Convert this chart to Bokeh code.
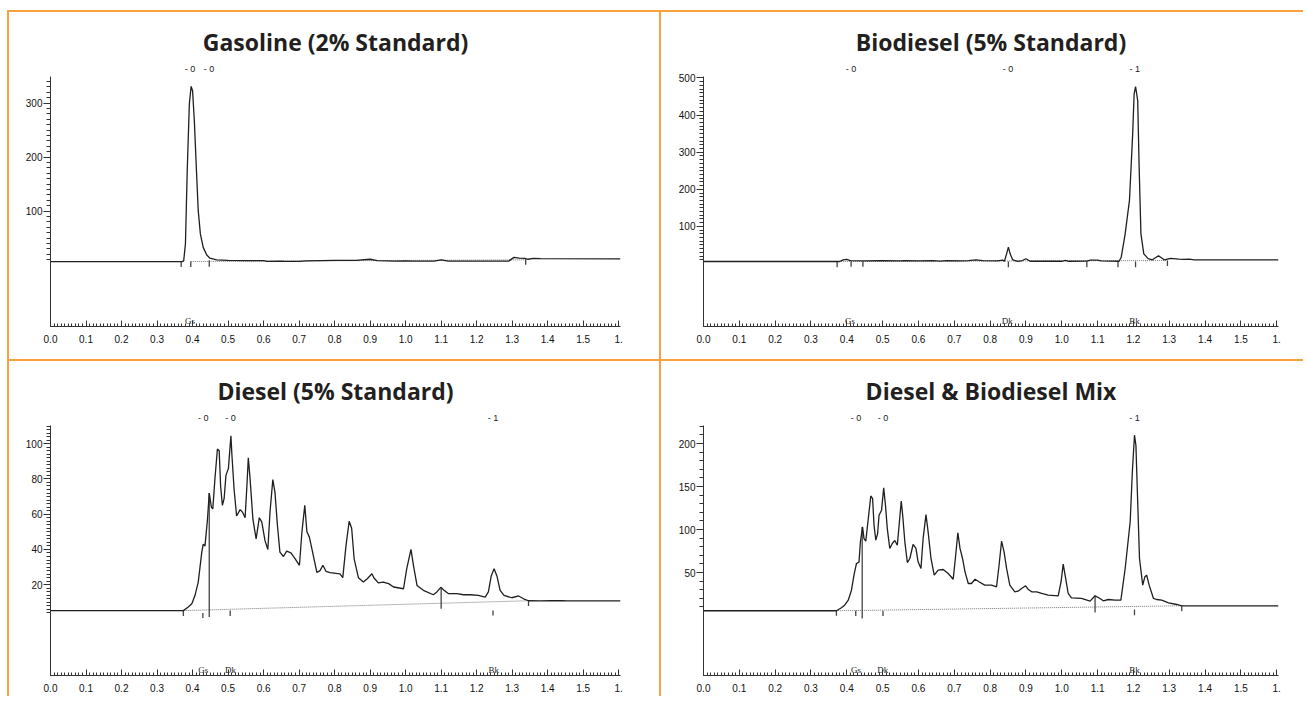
from bokeh.plotting import figure
from bokeh.models import Range1d, FixedTicker, Spacer
from bokeh.layouts import column, row
from bokeh.core.properties import value
from bokeh.embed import file_html
from bokeh.resources import INLINE

ORANGE = "#F7A23B"
INK = "#1f1f1f"
AXIS = "#333333"
NARROW = "Liberation Sans Narrow, Liberation Sans, Arial Narrow"

# ---------------- x axis (retention time, min) ----------------
x_ticks = [0.0, 0.1, 0.2, 0.3, 0.4, 0.5, 0.6, 0.7, 0.8, 0.9, 1.0, 1.1, 1.2, 1.3, 1.4, 1.5, 1.6]
x_tick_labels = ["0.0", "0.1", "0.2", "0.3", "0.4", "0.5", "0.6", "0.7", "0.8", "0.9",
                 "1.0", "1.1", "1.2", "1.3", "1.4", "1.5", "1."]
x_minor_ticks = [i / 100 for i in range(0, 161)]

# ---------------- Gasoline (2% Standard) ----------------
gas_t = [0.0, 0.370, 0.375, 0.380, 0.385, 0.391, 0.396, 0.400, 0.405, 0.411, 0.416, 0.422,
         0.430, 0.440, 0.449, 0.468, 0.50, 0.55, 0.60, 0.61, 0.65, 0.66, 0.70, 0.72, 0.76,
         0.80, 0.86, 0.90, 0.92, 0.97, 1.00, 1.02, 1.08, 1.10, 1.12, 1.20, 1.29, 1.305,
         1.32, 1.335, 1.345, 1.36, 1.38, 1.605]
gas_y = [6.8, 6.8, 8, 40, 175, 299, 331, 323, 268, 175, 101, 58,
         33, 19, 13, 10, 9, 8.5, 8.5, 7, 7.5, 7, 7, 8, 8.5,
         9, 9, 11, 8.5, 7.5, 8, 7.5, 7.5, 10, 7.5, 7.5, 7.5, 14.5,
         13, 12.5, 11, 12.5, 12, 11.8]
gas_base_t = [0.395, 1.338]
gas_base_y = [6.8, 10.0]
gas_mark_t = [0.368, 0.395, 0.447, 1.338]
gas_mark_top = [7.0, 7.0, 9.0, 11.0]
gas_mark_bot = [-3.5, -3.5, -3.0, 1.0]
gas_peak_t = [0.393, 0.446]
gas_peak_txt = ["- 0", "- 0"]
gas_cmp_t = [0.393]
gas_cmp_txt = ["Gs"]
gas_yticks = [100, 200, 300]
gas_yminor = list(range(10, 350, 10))

# ---------------- Biodiesel (5% Standard) ----------------
bio_t = [0.0, 0.380, 0.390, 0.400, 0.410, 0.450, 0.500, 0.550, 0.560, 0.600, 0.640, 0.660,
         0.680, 0.720, 0.740, 0.760, 0.780, 0.820, 0.835, 0.840, 0.846, 0.851, 0.856, 0.863,
         0.877, 0.890, 0.900, 0.912, 1.000, 1.010, 1.020, 1.070, 1.080, 1.100, 1.110, 1.160,
         1.166, 1.177, 1.189, 1.198, 1.202, 1.206, 1.212, 1.216, 1.221, 1.229, 1.241, 1.253,
         1.270, 1.286, 1.304, 1.327, 1.340, 1.356, 1.370, 1.605]
bio_y = [5.4, 5.4, 10, 11, 8, 7, 8, 7, 8, 7, 8, 6.5,
         8, 7, 8, 10, 8, 7, 9, 6, 26, 44, 26, 10,
         6, 8, 12.7, 6, 6, 8.5, 6, 6.5, 9, 9, 7, 6,
         17, 80, 170, 350, 457, 477, 439, 260, 80, 26, 13, 10,
         21, 10, 14, 12, 11, 12, 10, 10]
bio_base_t = [0.373, 1.295]
bio_base_y = [5.4, 8.0]
bio_mark_t = [0.373, 0.412, 0.445, 0.851, 1.070, 1.157, 1.206, 1.295]
bio_mark_top = [5.4, 6.0, 5.4, 5.4, 5.4, 5.4, 5.4, 8.0]
bio_mark_bot = [-10, -9, -9, -10, -10, -10, -10, -7]
bio_peak_t = [0.412, 0.850, 1.204]
bio_peak_txt = ["- 0", "- 0", "- 1"]
bio_cmp_t = [0.409, 0.848, 1.203]
bio_cmp_txt = ["Gs", "Dk", "Bk"]
bio_yticks = [100, 200, 300, 400, 500]
bio_yminor = list(range(10, 510, 10))

# ---------------- Diesel (5% Standard) ----------------
die_t = [0.0, 0.370, 0.374, 0.388, 0.398, 0.407, 0.416, 0.426, 0.430, 0.435, 0.442, 0.447,
         0.453, 0.457, 0.463, 0.470, 0.475, 0.479, 0.484, 0.489, 0.494, 0.501, 0.508, 0.511,
         0.517, 0.524, 0.534, 0.541, 0.548, 0.553, 0.557, 0.562, 0.570, 0.579, 0.588, 0.595,
         0.604, 0.612, 0.618, 0.626, 0.632, 0.639, 0.646, 0.656, 0.665, 0.677, 0.689, 0.701,
         0.708, 0.716, 0.722, 0.729, 0.738, 0.750, 0.759, 0.767, 0.776, 0.787, 0.815, 0.823,
         0.832, 0.841, 0.848, 0.855, 0.867, 0.881, 0.892, 0.905, 0.911, 0.923, 0.937, 0.952,
         0.966, 0.994, 1.003, 1.015, 1.022, 1.032, 1.050, 1.078, 1.088, 1.099, 1.108, 1.121,
         1.144, 1.163, 1.182, 1.205, 1.224, 1.233, 1.241, 1.249, 1.257, 1.266, 1.277, 1.299,
         1.318, 1.332, 1.346, 1.379, 1.407, 1.440, 1.454, 1.605]
die_y = [5.3, 5.3, 5.3, 7.4, 9.2, 14, 21.5, 38.5, 43, 42, 57, 72,
         64, 63, 80, 97, 96, 76, 65, 69, 82, 86, 104.5, 93,
         74, 59, 62.6, 61, 58, 76, 92, 80, 57, 46, 58, 55.5,
         45, 40, 61, 79.6, 72.5, 53.6, 38.5, 36, 39, 38, 34.7, 31,
         50, 65, 50, 47, 38.5, 27, 28, 31, 27.5, 26.8, 26.2, 24,
         42, 56, 52, 34.7, 24, 21.5, 23.4, 26.2, 23.8, 21, 21.5, 20.6,
         18.7, 17.7, 29, 40, 31, 19.6, 16.8, 14.3, 15.9, 18.5, 16.8, 14.9,
         14.9, 14.3, 14.3, 13.9, 13, 15.9, 25, 29, 25, 16.8, 13.9, 12.6,
         13.6, 12, 10.9, 10.8, 10.9, 10.9, 10.8, 10.8]
die_base_t = [0.375, 1.346]
die_base_y = [5.3, 10.9]
die_mark_t = [0.374, 0.429, 0.447, 0.506, 1.100, 1.246, 1.346]
die_mark_top = [5.1, 4.0, 72.0, 5.4, 18.5, 5.4, 10.9]
die_mark_bot = [2.3, 1.1, 1.7, 2.3, 6.4, 2.6, 7.9]
die_peak_t = [0.430, 0.507, 1.246]
die_peak_txt = ["- 0", "- 0", "- 1"]
die_cmp_t = [0.430, 0.507, 1.248]
die_cmp_txt = ["Gs", "Dk", "Bk"]
die_yticks = [20, 40, 60, 80, 100]
die_yminor = list(range(4, 112, 2))

# ---------------- Diesel & Biodiesel Mix ----------------
mix_t = [0.0, 0.365, 0.371, 0.385, 0.394, 0.404, 0.413, 0.420, 0.427, 0.434, 0.438, 0.444,
         0.448, 0.453, 0.460, 0.467, 0.472, 0.476, 0.481, 0.486, 0.490, 0.497, 0.503, 0.508,
         0.513, 0.520, 0.527, 0.534, 0.541, 0.546, 0.552, 0.556, 0.562, 0.569, 0.576, 0.585,
         0.593, 0.599, 0.607, 0.613, 0.621, 0.627, 0.635, 0.644, 0.655, 0.669, 0.683, 0.697,
         0.703, 0.710, 0.716, 0.723, 0.730, 0.739, 0.748, 0.758, 0.769, 0.785, 0.804, 0.818,
         0.825, 0.832, 0.839, 0.846, 0.855, 0.869, 0.878, 0.888, 0.899, 0.906, 0.916, 0.930,
         0.944, 0.962, 0.990, 0.998, 1.004, 1.011, 1.018, 1.027, 1.055, 1.079, 1.093, 1.102,
         1.116, 1.130, 1.149, 1.165, 1.177, 1.191, 1.197, 1.203, 1.207, 1.212, 1.217, 1.226,
         1.232, 1.237, 1.244, 1.256, 1.265, 1.279, 1.298, 1.321, 1.335, 1.605]
mix_y = [5.5, 5.5, 5.5, 9, 12, 17.8, 29.4, 47, 60.5, 62, 85.7, 103,
         89.5, 86.4, 112.8, 139, 136, 105, 87.6, 95.3, 116.6, 122.5, 148.5, 128,
         101, 78, 83.7, 87.2, 81.7, 105, 133, 116.6, 85.7, 61.6, 66.3, 82.6,
         78, 62.4, 54.7, 89.5, 117.4, 97.3, 66.3, 46.9, 52.7, 53.5, 48.8, 42.2,
         66.3, 96.2, 78, 66.3, 50.8, 37.2, 37.2, 42.2, 39.2, 35.3, 35.3, 33.4,
         58.5, 86.4, 74, 54.7, 35.3, 27.5, 28.3, 31.4, 34.5, 30.6, 27.5, 27.5,
         25.6, 23.6, 22.9, 39, 59.7, 43, 25.6, 20.5, 19.8, 16.7, 22.9, 20.9,
         17.1, 18.6, 17.8, 17.8, 54.7, 109, 167, 209.7, 198, 132, 66.3, 35.3,
         45, 46.9, 35.3, 19.8, 18.6, 17.8, 14.8, 12.8, 11.3, 11.3]
mix_base_t = [0.375, 1.335]
mix_base_y = [5.5, 11.3]
mix_mark_t = [0.371, 0.425, 0.443, 0.501, 1.093, 1.203, 1.335]
mix_mark_top = [6.2, 5.5, 103.0, 5.5, 22.9, 7.0, 11.3]
mix_mark_bot = [-0.3, -0.5, -3.5, -0.5, 3.5, 0.3, 5.0]
mix_peak_t = [0.426, 0.501, 1.203]
mix_peak_txt = ["- 0", "- 0", "- 1"]
mix_cmp_t = [0.426, 0.500, 1.203]
mix_cmp_txt = ["Gs", "Dk", "Bk"]
mix_yticks = [50, 100, 150, 200]
mix_yminor = list(range(10, 225, 10))


def make_panel(title, t, y, ax_lo, ax_hi, yticks, yminor, base_t, base_y,
               mark_t, mark_top, mark_bot, peak_t, peak_txt, cmp_t, cmp_txt,
               width, height, left, right, bottom):
    upp = (ax_hi - ax_lo) / 250.0          # data units per pixel
    y_end = ax_hi + 18 * upp
    p = figure(width=width, height=height, x_range=Range1d(0, 1.605),
               y_range=Range1d(ax_lo, y_end), output_backend="svg",
               toolbar_location=None, min_border_left=left, min_border_right=right,
               min_border_top=46, min_border_bottom=bottom,
               outline_line_color=None, border_fill_color="white",
               background_fill_color="white",
               styles={"border-left": f"2px solid {ORANGE}",
                       "border-top": f"2px solid {ORANGE}"})
    p.grid.visible = False

    p.title.text = title
    p.title.align = "center"
    p.title.text_font = "Open Sans"
    p.title.text_font_style = "bold"
    p.title.text_font_size = "23px"
    p.title.text_color = "#231f20"
    p.title.standoff = 1

    xa = p.xaxis[0]
    xa.ticker = FixedTicker(ticks=x_ticks, minor_ticks=x_minor_ticks)
    xa.major_label_overrides = dict(zip(x_ticks, x_tick_labels))
    xa.major_tick_in = 6
    xa.major_tick_out = 0
    xa.minor_tick_in = 3
    xa.minor_tick_out = 0
    xa.major_label_standoff = 8
    xa.major_label_text_font = NARROW
    xa.major_label_text_font_size = "10px"
    xa.major_label_text_color = "#111111"
    xa.axis_line_color = AXIS
    xa.major_tick_line_color = AXIS
    xa.minor_tick_line_color = AXIS

    ya = p.yaxis[0]
    ya.ticker = FixedTicker(ticks=yticks, minor_ticks=yminor)
    ya.bounds = (ax_lo, ax_hi)
    ya.major_tick_in = 0
    ya.major_tick_out = 7
    ya.minor_tick_in = 0
    ya.minor_tick_out = 4
    ya.major_label_standoff = 1
    ya.major_label_text_font = NARROW
    ya.major_label_text_font_size = "10px"
    ya.major_label_text_color = "#111111"
    ya.axis_line_color = AXIS
    ya.major_tick_line_color = AXIS
    ya.minor_tick_line_color = AXIS

    p.line(base_t, base_y, line_color="#777777", line_width=1, line_dash="1 1")
    p.segment(x0=mark_t, y0=mark_top, x1=mark_t, y1=mark_bot,
              line_color="#444444", line_width=1.3)
    p.line(t, y, line_color=INK, line_width=1.3)

    p.text(x=peak_t, y=ax_hi + 8 * upp, text=peak_txt, text_font=value("Liberation Sans"),
           text_font_size="9px", text_align="center", text_baseline="middle",
           text_color="#222222")
    p.text(x=cmp_t, y=ax_lo + 1 * upp, text=cmp_txt, text_font=value("Liberation Sans Narrow"),
           text_font_size="9px", text_align="center", text_baseline="bottom",
           text_color="#222222")
    return p


p1 = make_panel("Gasoline (2% Standard)", gas_t, gas_y, -113.5, 349.4, gas_yticks, gas_yminor,
                gas_base_t, gas_base_y, gas_mark_t, gas_mark_top, gas_mark_bot,
                gas_peak_t, gas_peak_txt, gas_cmp_t, gas_cmp_txt,
                652, 349, 41, 41, 35)
p2 = make_panel("Biodiesel (5% Standard)", bio_t, bio_y, -169.8, 504.0, bio_yticks, bio_yminor,
                bio_base_t, bio_base_y, bio_mark_t, bio_mark_top, bio_mark_bot,
                bio_peak_t, bio_peak_txt, bio_cmp_t, bio_cmp_txt,
                644, 349, 42, 27, 35)
p3 = make_panel("Diesel (5% Standard)", die_t, die_y, -31.5, 110.3, die_yticks, die_yminor,
                die_base_t, die_base_y, die_mark_t, die_mark_top, die_mark_bot,
                die_peak_t, die_peak_txt, die_cmp_t, die_cmp_txt,
                652, 337, 41, 41, 23)
p4 = make_panel("Diesel & Biodiesel Mix", mix_t, mix_y, -69.8, 221.0, mix_yticks, mix_yminor,
                mix_base_t, mix_base_y, mix_mark_t, mix_mark_top, mix_mark_bot,
                mix_peak_t, mix_peak_txt, mix_cmp_t, mix_cmp_txt,
                644, 337, 42, 27, 23)

layout = column(Spacer(height=10),
                row(Spacer(width=7), p1, p2),
                row(Spacer(width=7), p3, p4))
open("out.html", "w").write(file_html(layout, INLINE))
